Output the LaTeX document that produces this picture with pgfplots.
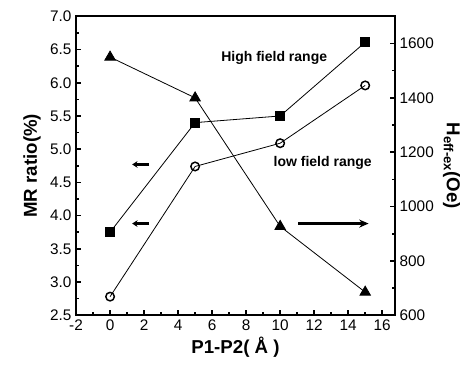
\documentclass[border=0pt]{standalone}
\usepackage{pgfplots}
\pgfplotsset{compat=1.18}
\usepackage{fontspec}
\setmainfont{Liberation Sans}
\usetikzlibrary{arrows.meta}
\begin{document}
\begin{tikzpicture}
\pgfplotsset{
  common/.style={
    at={(0,0)}, anchor=south west, scale only axis, width=239pt, height=224pt,
    xmin=-2, xmax=16.75,
    tick align=inside, major tick length=4pt, minor tick length=2.5pt,
    axis line style={line width=1.5pt},
    tick style={line width=1.2pt, black},
    /pgf/number format/assume math mode=true,
    /pgf/number format/1000 sep={},
    tick label style={font=\fontsize{11.5}{13}\selectfont},
    label style={font=\bfseries\fontsize{14}{16}\selectfont},
  },
}
\begin{axis}[common,
  ymin=2.5, ymax=7.0,
  xtick={-2,0,...,16}, minor x tick num=1,
  ytick={2.5,3.0,...,7.0}, minor y tick num=1,
  xtick pos=bottom, ytick pos=left,
  yticklabel style={/pgf/number format/fixed, /pgf/number format/fixed zerofill, /pgf/number format/precision=1},
  xlabel={P1-P2( Å )}, ylabel={MR ratio(\%)},
  xlabel style={yshift=2pt},
]
\addplot[black, line width=0.6pt, mark=square*, mark size=3.4pt, mark options={solid}]
  coordinates {(0,3.75) (5,5.40) (10,5.50) (15,6.61)};
\addplot[black, line width=0.6pt, mark=o, mark size=3.2pt, mark options={solid, line width=1.1pt, fill=white}]
  coordinates {(0,2.78) (5,4.74) (10,5.09) (15,5.96)};
\node[font=\bfseries\fontsize{10.5}{12}\selectfont] at (axis cs:9.65,6.37) {High field range};
\node[font=\bfseries\fontsize{10.5}{12}\selectfont] at (axis cs:12.5,4.79) {low field range};
\draw[line width=2.2pt, -{Stealth[length=4pt,width=5pt]}] (axis cs:2.3,4.77) -- (axis cs:1.3,4.77);
\draw[line width=2.2pt, -{Stealth[length=4pt,width=5pt]}] (axis cs:2.3,3.88) -- (axis cs:1.3,3.88);
\draw[line width=2.2pt, -{Stealth[length=7pt,width=6pt]}] (axis cs:11.06,3.88) -- (axis cs:15.2,3.88);
\end{axis}
\begin{axis}[common,
  ymin=600, ymax=1700,
  hide x axis,
  axis y line*=right,
  ytick={600,800,...,1600}, minor y tick num=1,
  ylabel={H\textsubscript{eff-ex}(Oe)},
  ylabel style={rotate=180},
]
\addplot[black, line width=0.6pt, mark=triangle*, mark size=4.5pt, mark options={solid}]
  coordinates {(0,1550) (5,1400) (10,927) (15,685)};
\end{axis}
\pgfresetboundingbox
\path[use as bounding box] (-57pt,-37.5pt) rectangle (287.75pt,236.25pt);
\end{tikzpicture}
\end{document}
